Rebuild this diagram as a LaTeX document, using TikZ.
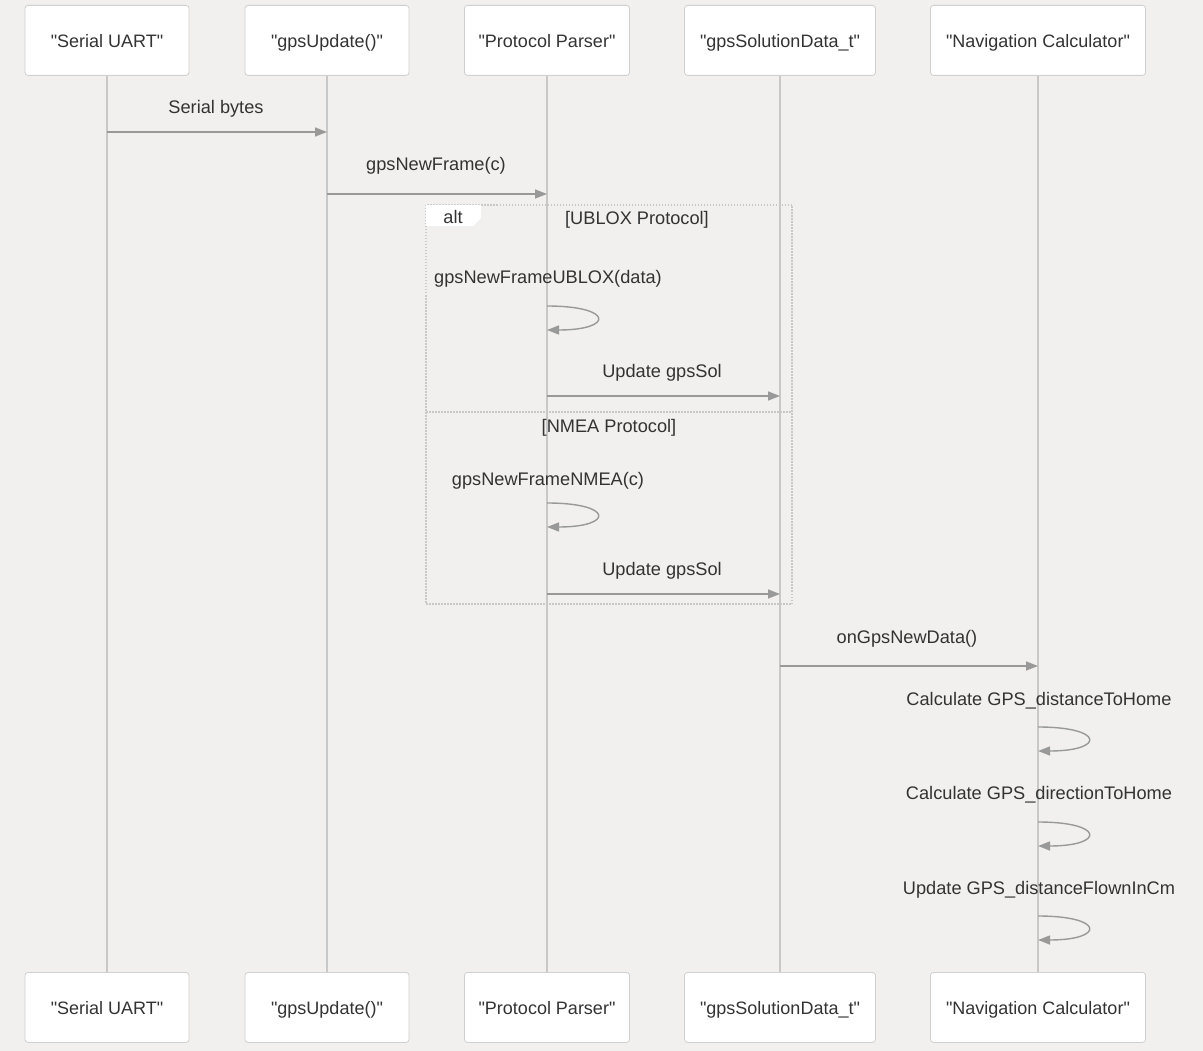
\documentclass[tikz,border=0pt]{standalone}
\usepackage{fontspec}
\setmainfont{Liberation Sans}[Ligatures=TeXOff]
\usetikzlibrary{arrows.meta}
\definecolor{bg}{HTML}{F1F0EE}
\definecolor{boxline}{HTML}{D0D0D0}
\definecolor{life}{HTML}{C8C8C8}
\definecolor{msg}{HTML}{999999}
\definecolor{txt}{HTML}{333333}
\definecolor{frameline}{HTML}{C8C8C8}
\newcommand{\qq}[1]{"#1"}
\tikzset{
  actor/.style={draw=boxline, fill=white, rounded corners=3pt, line width=0.8pt, minimum height=70pt, font=\fontsize{18}{21}\selectfont, text=txt, anchor=north, text height=16pt, text depth=2pt},
  lifeline/.style={draw=life, line width=1.8pt},
  msgline/.style={draw=msg, line width=1.4pt, -{Triangle[length=12pt,width=9pt]}},
  selfloop/.style={draw=msg, line width=1.4pt, -{Triangle[length=12pt,width=9pt]}},
  lbl/.style={font=\fontsize{18.2}{21}\selectfont, text=txt, inner sep=0pt, text height=17pt, text depth=2pt},
  altframe/.style={draw=frameline, line width=1.2pt, dash pattern=on 1.5pt off 1.5pt},
}
\begin{document}
\begin{tikzpicture}[x=1pt,y=-1pt]
\fill[bg] (0,0) rectangle (1203,1051);
\useasboundingbox (0,0) rectangle (1203,1051);

% lifelines
\foreach \x in {107,327,547,780,1038} {\draw[lifeline] (\x,75) -- (\x,972);}

% top participants
\node[actor, minimum width=164pt] (su) at (107,5) {\qq{Serial UART}};
\node[actor, minimum width=164pt] (gu) at (327,5) {\qq{gpsUpdate()}};
\node[actor, minimum width=165pt] (pp) at (547,5) {\qq{Protocol Parser}};
\node[actor, minimum width=191pt] (gs) at (780,5) {\qq{gpsSolutionData\_t}};
\node[actor, minimum width=215pt] (nc) at (1038,5) {\qq{Navigation Calculator}};
% bottom participants
\node[actor, minimum width=164pt] (su2) at (107,972) {\qq{Serial UART}};
\node[actor, minimum width=164pt] (gu2) at (327,972) {\qq{gpsUpdate()}};
\node[actor, minimum width=165pt] (pp2) at (547,972) {\qq{Protocol Parser}};
\node[actor, minimum width=191pt] (gs2) at (780,972) {\qq{gpsSolutionData\_t}};
\node[actor, minimum width=215pt] (nc2) at (1038,972) {\qq{Navigation Calculator}};

% alt frame
\draw[altframe] (426,205) rectangle (792,604);
\draw[altframe] (426,412) -- (792,412);
\fill[white] (426,205) -- (481,205) -- (481,218) -- (473,226) -- (426,226) -- cycle;
\node[lbl] (altl) at (453,216) {alt};
\node[lbl] (ublox) at (637,217) {[UBLOX Protocol]};
\node[lbl] (nmea) at (609,425) {[NMEA Protocol]};

% message 1
\coordinate (m1a) at (107,132); \coordinate (m1b) at (327,132);
\draw[msgline] (m1a) -- (m1b);
\node[lbl] (l1) at (216,106) {Serial bytes};
% message 2
\coordinate (m2a) at (327,194); \coordinate (m2b) at (547,194);
\draw[msgline] (m2a) -- (m2b);
\node[lbl] (l2) at (436,163) {gpsNewFrame(c)};
% self 1
\node[lbl] (l3) at (548,276) {gpsNewFrameUBLOX(data)};
\coordinate (s1a) at (547,306); \coordinate (s1b) at (547,330);
\draw[selfloop] (s1a) .. controls (614,306) and (614,330) .. (s1b);
% message 4
\coordinate (m4a) at (547,396); \coordinate (m4b) at (780,396);
\draw[msgline] (m4a) -- (m4b);
\node[lbl] (l4) at (662,370) {Update gpsSol};
% self 2
\node[lbl] (l5) at (548,478) {gpsNewFrameNMEA(c)};
\coordinate (s2a) at (547,503); \coordinate (s2b) at (547,527);
\draw[selfloop] (s2a) .. controls (614,503) and (614,527) .. (s2b);
% message 6
\coordinate (m6a) at (547,594); \coordinate (m6b) at (780,594);
\draw[msgline] (m6a) -- (m6b);
\node[lbl] (l6) at (662,568) {Update gpsSol};
% message 7
\coordinate (m7a) at (780,666); \coordinate (m7b) at (1038,666);
\draw[msgline] (m7a) -- (m7b);
\node[lbl] (l7) at (907,636) {onGpsNewData()};
% self loops nav
\node[lbl] (l8) at (1039,698) {Calculate GPS\_distanceToHome};
\coordinate (s3a) at (1038,727); \coordinate (s3b) at (1038,751);
\draw[selfloop] (s3a) .. controls (1105,727) and (1105,751) .. (s3b);
\node[lbl] (l9) at (1039,792) {Calculate GPS\_directionToHome};
\coordinate (s4a) at (1038,822); \coordinate (s4b) at (1038,846);
\draw[selfloop] (s4a) .. controls (1105,822) and (1105,846) .. (s4b);
\node[lbl] (l10) at (1039,887) {Update GPS\_distanceFlownInCm};
\coordinate (s5a) at (1038,916); \coordinate (s5b) at (1038,940);
\draw[selfloop] (s5a) .. controls (1105,916) and (1105,940) .. (s5b);
\end{tikzpicture}
\end{document}
